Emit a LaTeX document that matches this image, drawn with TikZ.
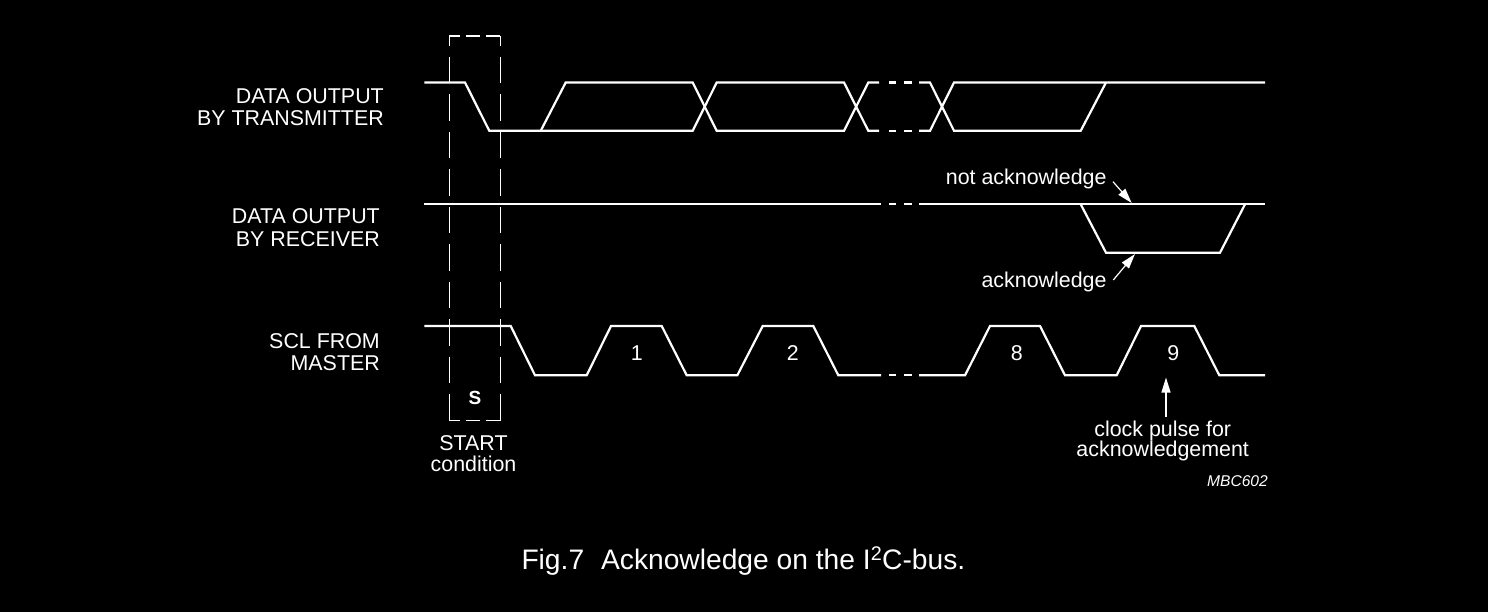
\documentclass[tikz,border=0pt]{standalone}
\usepackage{fontspec}
\setmainfont{Liberation Sans}
\usetikzlibrary{arrows.meta}
\begin{document}
\begin{tikzpicture}[x=1pt,y=-1pt,
  sig/.style={white,line width=2.2pt,line join=miter},
  boxv/.style={white,line width=1.3pt,dash pattern=on 26.5pt off 10.97pt,dash phase=16.5pt},
  boxh/.style={white,line width=1.3pt,dash pattern=on 14pt off 6pt,dash phase=3pt},
  lbl/.style={text=white,inner sep=0pt,font=\fontsize{21.4}{24}\selectfont},
  ptr/.style={white,line width=1.2pt,-{Triangle[length=15pt,width=9pt]}}]
\fill[black] (0,0) rectangle (1488,612);
\useasboundingbox (0,0) rectangle (1488,612);

% ---------- DATA OUTPUT BY TRANSMITTER (H=82.5, L=130.8)
\draw[sig] (424.3,82.5) -- (465,82.5) -- (489.3,130.8) -- (540.7,130.8) -- (565.7,82.5) -- (692.7,82.5) -- (716.7,130.8) -- (844,130.8) -- (868.3,82.5) -- (879,82.5);
\draw[sig] (540.7,130.8) -- (692.7,130.8) -- (716.7,82.5) -- (844,82.5) -- (868.3,130.8) -- (879,130.8);
\draw[sig] (889,82.5) -- (896,82.5) (904,82.5) -- (911.7,82.5);
\draw[sig] (889,130.8) -- (896,130.8) (904,130.8) -- (911.7,130.8);
\draw[sig] (919,82.5) -- (930,82.5) -- (954,130.8) -- (1080.7,130.8) -- (1106,82.5);
\draw[sig] (919,130.8) -- (930,130.8) -- (954,82.5) -- (1265,82.5);

% ---------- DATA OUTPUT BY RECEIVER (H=204.3, L=252.7)
\draw[sig] (424.3,204.3) -- (881,204.3);
\draw[sig] (889,204.3) -- (896,204.3) (904,204.3) -- (911.7,204.3);
\draw[sig] (919,204.3) -- (1265,204.3);
\draw[sig] (1080.7,204.3) -- (1106,252.7) -- (1220,252.7) -- (1245,204.3);

% ---------- SCL FROM MASTER (H=326, L=375.3)
\draw[sig] (424.3,326) -- (510.7,326) -- (535,375.3) -- (586.7,375.3) -- (611,326) -- (661.7,326) -- (686.7,375.3) -- (737.3,375.3) -- (762.7,326) -- (813.3,326) -- (838.3,375.3) -- (881,375.3);
\draw[sig] (889,375.3) -- (896,375.3) (904,375.3) -- (911.7,375.3);
\draw[sig] (919,375.3) -- (965,375.3) -- (990,326) -- (1040,326) -- (1065,375.3) -- (1116.7,375.3) -- (1141,326) -- (1194.3,326) -- (1219.3,375.3) -- (1265,375.3);

% ---------- START condition box
\draw[boxh] (449.3,36) -- (500.3,36);
\draw[boxh] (449.3,420.7) -- (500.3,420.7);
\draw[boxv] (449.3,36) -- (449.3,420.7);
\draw[boxv] (500.3,36) -- (500.3,420.7);

% ---------- left labels
\node[lbl,anchor=base east] (t1) at (384,104) {DATA OUTPUT};
\node[lbl,anchor=base east] (t2) at (384,126) {BY TRANSMITTER};
\node[lbl,anchor=base east] (r1) at (380,224) {DATA OUTPUT};
\node[lbl,anchor=base east] (r2) at (380,246.7) {BY RECEIVER};
\node[lbl,anchor=base east] (s1) at (380,348.3) {SCL FROM};
\node[lbl,anchor=base east] (s2) at (380,370) {MASTER};

% ---------- pulse numbers
\node[lbl,anchor=base] (n1) at (636.7,360) {1};
\node[lbl,anchor=base] (n2) at (792.7,360) {2};
\node[lbl,anchor=base] (n8) at (1016.7,360) {8};
\node[lbl,anchor=base] (n9) at (1173.3,360) {9};

% ---------- start labels
\node[text=white,inner sep=0pt,anchor=base,font=\fontsize{19}{22}\selectfont\bfseries] (S) at (475,404) {S};
\node[lbl,anchor=base] (st1) at (473.5,450) {START};
\node[lbl,anchor=base] (st2) at (473.5,471) {condition};

% ---------- acknowledge labels and arrows
\node[lbl,anchor=base east] (nack) at (1106.7,185) {not acknowledge};
\node[lbl,anchor=base east] (ack) at (1106.7,287.5) {acknowledge};
\coordinate (nackA) at (1113,181.7);
\coordinate (nackB) at (1131.7,203);
\coordinate (ackA) at (1113.3,280);
\coordinate (ackB) at (1135,254);
\draw[ptr] (nackA) -- (nackB);
\draw[ptr] (ackA) -- (ackB);

\node[lbl,anchor=base] (cp1) at (1162.7,436) {clock pulse for};
\node[lbl,anchor=base] (cp2) at (1162.7,456.7) {acknowledgement};
\coordinate (cpA) at (1166,416.7);
\coordinate (cpB) at (1166,377.5);
\draw[ptr] (cpA) -- (cpB);

\node[text=white,inner sep=0pt,anchor=base east,font=\fontsize{15.6}{18}\selectfont\itshape] (mbc) at (1268,486.7) {MBC602};

% ---------- caption
\node[text=white,inner sep=0pt,anchor=base,font=\fontsize{28.2}{31}\selectfont] (cap) at (743.4,569.3) {Fig.7\hspace{0.6em}Acknowledge on the I\textsuperscript{2}C-bus.};
\end{tikzpicture}
\end{document}
